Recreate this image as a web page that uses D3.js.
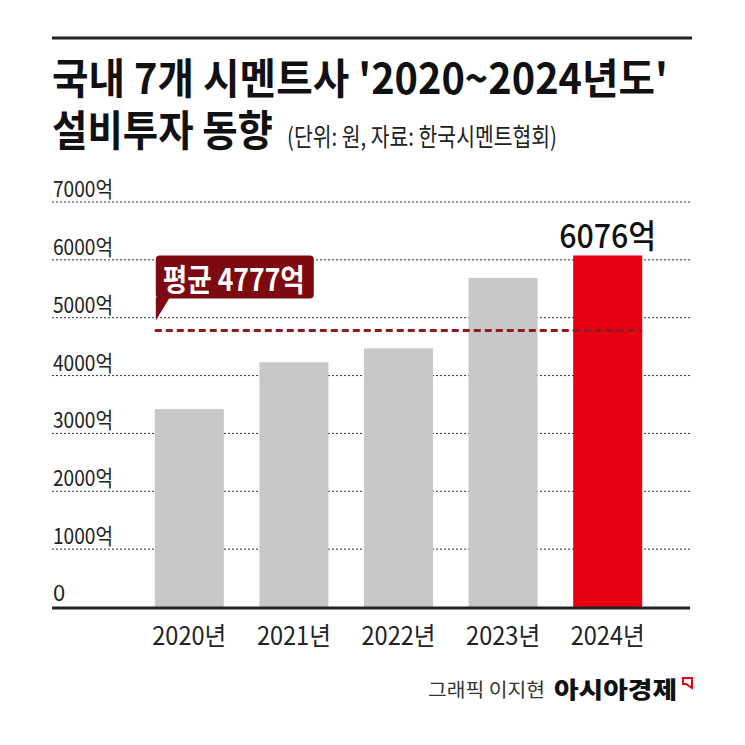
<!DOCTYPE html>
<html>
<head>
<meta charset="utf-8">
<script src="https://cdn.jsdelivr.net/npm/d3@7"></script>
<style>
  body { margin: 0; background: #fff; }
  text { font-family: "Noto Sans CJK KR", "Noto Sans", sans-serif; }
</style>
</head>
<body>
<div id="chart"></div>
<script>
// data
var years = ["2020년", "2021년", "2022년", "2023년", "2024년"];
var values = [3420, 4230, 4470, 5689, 6076];
var average = 4777;
var yTicks = [0, 1000, 2000, 3000, 4000, 5000, 6000, 7000];

var width = 745, height = 745;

var svg = d3.select("#chart").append("svg")
    .attr("width", width)
    .attr("height", height);

// title block
svg.append("line")
    .attr("x1", 52).attr("x2", 692)
    .attr("y1", 38).attr("y2", 38)
    .attr("stroke", "#222").attr("stroke-width", 3);

svg.append("text")
    .attr("x", 52).attr("y", 94)
    .attr("font-size", 42).attr("font-weight", 700)
    .attr("textLength", 616).attr("lengthAdjust", "spacingAndGlyphs")
    .attr("fill", "#111")
    .text("국내 7개 시멘트사 '2020~2024년도'");

svg.append("text")
    .attr("x", 52).attr("y", 146)
    .attr("font-size", 42).attr("font-weight", 700)
    .attr("textLength", 221).attr("lengthAdjust", "spacingAndGlyphs")
    .attr("fill", "#111")
    .text("설비투자 동향");

svg.append("text")
    .attr("x", 287).attr("y", 146)
    .attr("font-size", 25)
    .attr("textLength", 270).attr("lengthAdjust", "spacingAndGlyphs")
    .attr("fill", "#222")
    .text("(단위: 원, 자료: 한국시멘트협회)");

// scales
var y = d3.scaleLinear().domain([0, 7000]).range([607, 202]);
var x = d3.scaleBand().domain(years).range([137, 660])
    .paddingInner(0.34).paddingOuter(0.17);

// gridlines + y labels
var grid = svg.append("g");
grid.selectAll("line").data(yTicks.filter(function (d) { return d > 0; }))
    .enter().append("line")
    .attr("x1", 52).attr("x2", 690)
    .attr("y1", function (d) { return y(d); })
    .attr("y2", function (d) { return y(d); })
    .attr("stroke", "#333").attr("stroke-width", 1)
    .attr("stroke-dasharray", "2,2");

grid.selectAll("text").data(yTicks)
    .enter().append("text")
    .attr("x", 53)
    .attr("y", function (d) { return d === 0 ? y(d) - 6 : y(d) - 5; })
    .attr("font-size", 22)
    .attr("fill", "#222")
    .attr("textLength", function (d) { return d === 0 ? null : 60; })
    .attr("lengthAdjust", "spacingAndGlyphs")
    .text(function (d) { return d === 0 ? "0" : d + "억"; });

// bars
svg.append("g").selectAll("rect").data(values)
    .enter().append("rect")
    .attr("x", function (d, i) { return x(years[i]); })
    .attr("width", x.bandwidth())
    .attr("y", function (d) { return y(d); })
    .attr("height", function (d) { return y(0) - y(d); })
    .attr("fill", function (d, i) { return i === values.length - 1 ? "#e60012" : "#c8c8ca"; });

// baseline
svg.append("line")
    .attr("x1", 52).attr("x2", 690)
    .attr("y1", y(0) + 1).attr("y2", y(0) + 1)
    .attr("stroke", "#222").attr("stroke-width", 3);

// average line
var x0 = x(years[0]), x1 = x(years[years.length - 1]) + x.bandwidth();
svg.append("line")
    .attr("x1", x0).attr("x2", x1)
    .attr("y1", y(average)).attr("y2", y(average))
    .attr("stroke", "#8f1b22").attr("stroke-width", 3)
    .attr("stroke-dasharray", "7,4");

// callout
var bx = x0 + 1, by = y(average) - 75, bw = 158, bh = 43;
svg.append("path")
    .attr("d", "M" + bx + "," + (by + bh - 1) +
        "L" + bx + "," + (y(average) - 10) +
        "L" + (bx + 14) + "," + (by + bh - 1) + "Z")
    .attr("fill", "#7d0a10");
svg.append("rect")
    .attr("x", bx).attr("y", by)
    .attr("width", bw).attr("height", bh)
    .attr("rx", 4)
    .attr("fill", "#7d0a10");
svg.append("text")
    .attr("x", bx + 7).attr("y", by + 35)
    .attr("font-size", 31).attr("font-weight", 700)
    .attr("fill", "#fff")
    .attr("textLength", 142).attr("lengthAdjust", "spacingAndGlyphs")
    .text("평균 " + average + "억");

// value label on last bar
var last = values.length - 1;
svg.append("text")
    .attr("x", x(years[last]) + x.bandwidth() / 2)
    .attr("y", y(values[last]) - 7)
    .attr("text-anchor", "middle")
    .attr("font-size", 33).attr("font-weight", 500)
    .attr("fill", "#111")
    .attr("textLength", 97).attr("lengthAdjust", "spacingAndGlyphs")
    .text(values[last] + "억");

// x labels
svg.append("g").selectAll("text").data(years)
    .enter().append("text")
    .attr("x", function (d) { return x(d) + x.bandwidth() / 2; })
    .attr("y", 645)
    .attr("text-anchor", "middle")
    .attr("font-size", 25)
    .attr("fill", "#222")
    .attr("textLength", 74).attr("lengthAdjust", "spacingAndGlyphs")
    .text(function (d) { return d; });

// footer
svg.append("text")
    .attr("x", 428).attr("y", 697)
    .attr("font-size", 19)
    .attr("fill", "#333")
    .attr("textLength", 117).attr("lengthAdjust", "spacingAndGlyphs")
    .text("그래픽 이지현");
svg.append("text")
    .attr("x", 554).attr("y", 698)
    .attr("font-size", 23).attr("font-weight", 900)
    .attr("fill", "#111")
    .attr("textLength", 123).attr("lengthAdjust", "spacingAndGlyphs")
    .text("아시아경제");
svg.append("path")
    .attr("d", "M683,678 L692,678 L692,688 L686,684 L683,684 Z")
    .attr("fill", "none")
    .attr("stroke", "#e60012").attr("stroke-width", 2);
</script>
</body>
</html>
